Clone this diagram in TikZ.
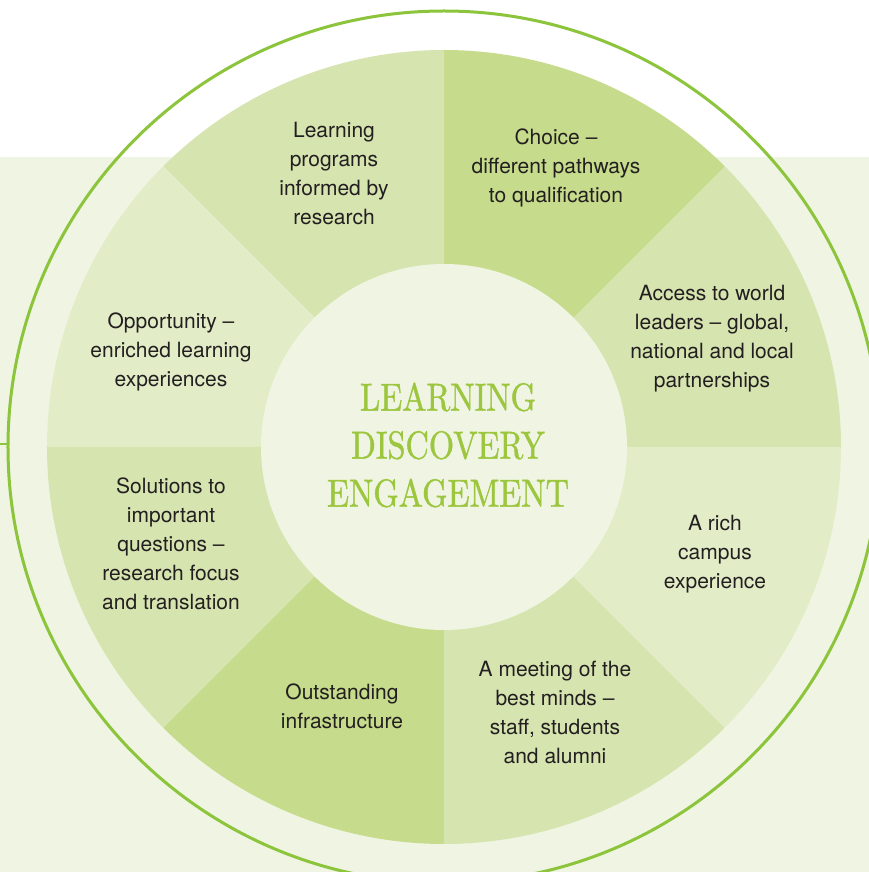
\documentclass[tikz,border=0pt]{standalone}
\usepackage{fontspec}
\setmainfont{TeX Gyre Heros}
\newfontfamily\headfont{lmroman10-regular}[Extension=.otf, FakeBold=1.2]
\usepackage{tikz}
\usetikzlibrary{positioning}

\definecolor{ringgreen}{HTML}{8CC43C}
\definecolor{titlegreen}{HTML}{9CC63E}
\definecolor{paleback}{HTML}{EFF5E2}
\definecolor{sectdark}{HTML}{C6DC8C}
\definecolor{sectmid}{HTML}{D6E4B0}
\definecolor{sectlight}{HTML}{E2ECC6}
\definecolor{inktext}{HTML}{231F20}

\tikzset{
  sectortext/.style={align=center, text=inktext, inner sep=0pt,
    font=\fontsize{21}{29}\selectfont},
  hubtext/.style={align=center, text=titlegreen, inner sep=0pt, xscale=0.83,
    font=\headfont\fontsize{39}{48}\selectfont}
}

\begin{document}
\begin{tikzpicture}[x=1pt,y=1pt]
            \useasboundingbox (-444,-425) rectangle (425,447);
            \fill[white] (-444,-425) rectangle (425,447);
            \fill[paleback] (-444,-425) rectangle (425,290);

            % outer ring, cut off by the page
            \begin{scope}
                \clip (-444,-425) rectangle (425,447);
                \draw[ringgreen, line width=3pt] (0,0) circle[radius=436pt];
            \end{scope}
            \draw[ringgreen, line width=2.5pt] (-444,3) -- (-435,3);

            % the eight sectors
            \foreach \a/\c in {0/sectmid,45/sectdark,90/sectmid,135/sectlight,180/sectmid,225/sectdark,270/sectmid,315/sectlight}
                \fill[\c] (0,0) -- (\a:397pt) arc[start angle=\a, end angle=\a+45, radius=397pt] -- cycle;

            \node[circle, fill=paleback, minimum size=366pt, inner sep=0pt] (hub) at (0,0) {};
            \node[hubtext] (motto) at ([xshift=4pt,yshift=2pt]hub.center) {LEARNING\\DISCOVERY\\ENGAGEMENT};

            \node[sectortext] (programs) at (-110,273) {Learning\\programs\\informed by\\research};
            \node[sectortext] (choice) at (112,279) {Choice --\\different pathways\\to qualification};
            \node[sectortext] (access) at (268,108) {Access to world\\leaders -- global,\\national and local\\partnerships};
            \node[sectortext] (campus) at (271,-107) {A rich\\campus\\experience};
            \node[sectortext] (minds) at (111,-265) {A meeting of the\\best minds --\\staff, students\\and alumni};
            \node[sectortext] (infra) at (-102,-259) {Outstanding\\infrastructure};
            \node[sectortext] (solutions) at (-273,-97) {Solutions to\\important\\questions --\\research focus\\and translation};
            \node[sectortext] (opportunity) at (-273,95) {Opportunity --\\enriched learning\\experiences};
        \end{tikzpicture}
\end{document}
